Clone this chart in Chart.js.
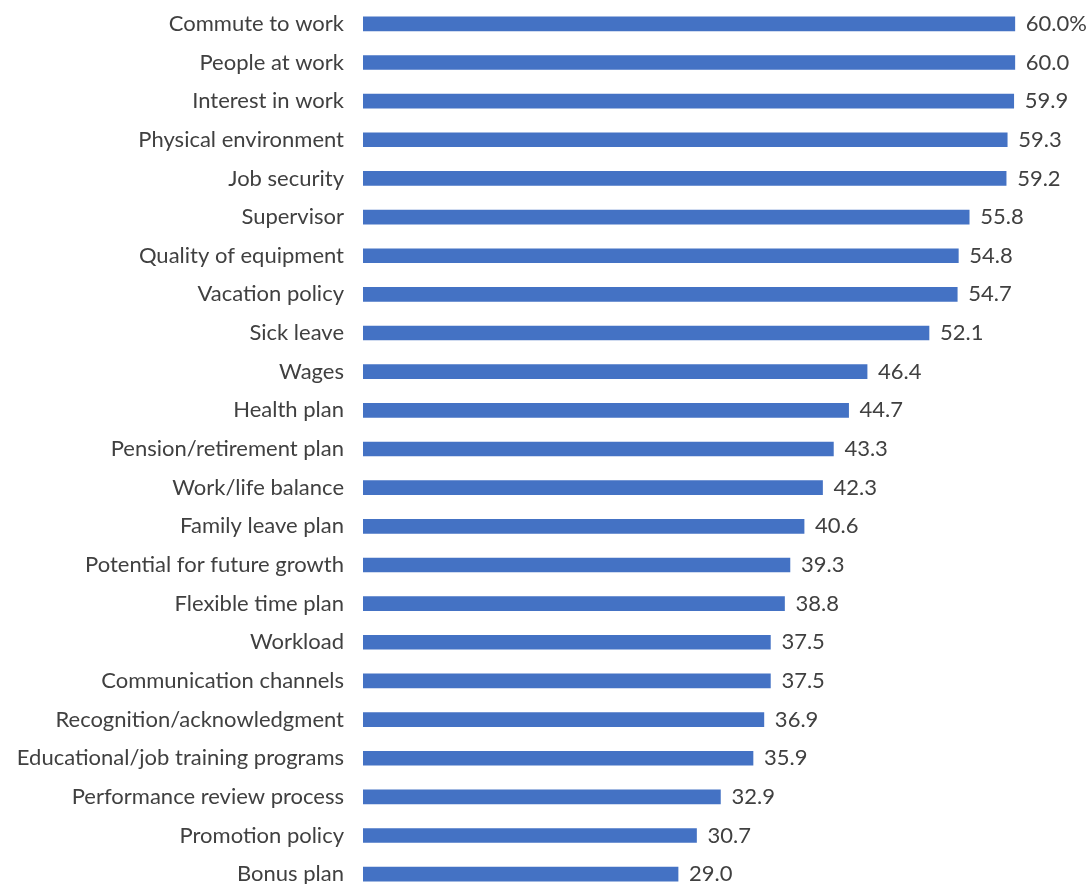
<!DOCTYPE html>
<html>
<head>
<meta charset="utf-8">
<script src="https://cdn.jsdelivr.net/npm/chart.js@4"></script>
<style>
  html, body { margin: 0; padding: 0; background: #fff; overflow: hidden; }
</style>
</head>
<body>
<canvas id="chart" width="1090" height="900"></canvas>
<script>
// categories, top to bottom
const categories = [
  "Commute to work", "People at work", "Interest in work", "Physical environment",
  "Job security", "Supervisor", "Quality of equipment", "Vacation policy",
  "Sick leave", "Wages", "Health plan", "Pension/retirement plan",
  "Work/life balance", "Family leave plan", "Potential for future growth",
  "Flexible time plan", "Workload", "Communication channels",
  "Recognition/acknowledgment", "Educational/job training programs",
  "Performance review process", "Promotion policy", "Bonus plan"
];

// percent satisfied
const values = [
  60.0, 60.0, 59.9, 59.3, 59.2, 55.8, 54.8, 54.7, 52.1, 46.4, 44.7, 43.3,
  42.3, 40.6, 39.3, 38.8, 37.5, 37.5, 36.9, 35.9, 32.9, 30.7, 29.0
];

const valueLabels = values.map((v, i) => v.toFixed(1) + (i === 0 ? "%" : ""));

const FONT = "Lato, 'Open Sans', sans-serif";
const TEXT = "#404040";

// draws the number to the right of each bar
const barValues = {
  id: "barValues",
  afterDatasetsDraw(chart) {
    const ctx = chart.ctx;
    const meta = chart.getDatasetMeta(0);
    ctx.save();
    ctx.font = "22px " + FONT;
    ctx.fillStyle = TEXT;
    ctx.textAlign = "left";
    ctx.textBaseline = "middle";
    meta.data.forEach((bar, i) => {
      ctx.fillText(valueLabels[i], bar.x + 11, bar.y);
    });
    ctx.restore();
  }
};

new Chart(document.getElementById("chart"), {
  type: "bar",
  data: {
    labels: categories,
    datasets: [{
      data: values,
      backgroundColor: "#4472c4",
      barThickness: 14,
      categoryPercentage: 1
    }]
  },
  options: {
    indexAxis: "y",
    responsive: false,
    animation: false,
    devicePixelRatio: 1,
    layout: { padding: { top: 4.5, bottom: 6.5, right: 10 } },
    plugins: {
      legend: { display: false },
      tooltip: { enabled: false }
    },
    scales: {
      x: {
        display: false,
        min: 0,
        max: 66
      },
      y: {
        grid: { display: false, drawTicks: false },
        border: { display: false },
        ticks: {
          padding: 19,
          color: TEXT,
          font: { family: FONT, size: 22 }
        },
        afterFit(scale) {
          scale.width = 363;
          scale.paddingTop = 0;
          scale.paddingBottom = 0;
        }
      }
    }
  },
  plugins: [barValues]
});
</script>
</body>
</html>
